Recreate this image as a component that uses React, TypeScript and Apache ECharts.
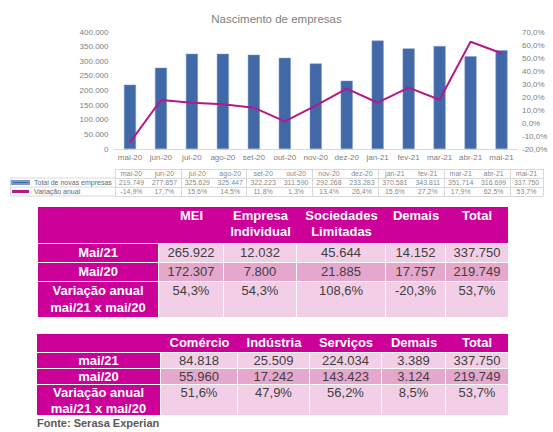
import React, { useEffect, useRef } from "react";
import * as echarts from "echarts";

const months = ["mai-20", "jun-20", "jul-20", "ago-20", "set-20", "out-20", "nov-20", "dez-20", "jan-21", "fev-21", "mar-21", "abr-21", "mai-21"];
const totalNovas = [219749, 277857, 325629, 325447, 322223, 311590, 292268, 233283, 370581, 343811, 351714, 316699, 337750];
const variacao = [-14.9, 17.7, 15.6, 14.5, 11.8, 1.3, 13.4, 26.4, 15.6, 27.2, 17.9, 62.5, 53.7];

const t1Headers = ["MEI", "Empresa\nIndividual", "Sociedades\nLimitadas", "Demais", "Total"];
const t1RowLabels = ["Mai/21", "Mai/20", "Variação anual\nmai/21 x mai/20"];
const t1Mai21 = [265922, 12032, 45644, 14152, 337750];
const t1Mai20 = [172307, 7800, 21885, 17757, 219749];
const t1Var = [54.3, 54.3, 108.6, -20.3, 53.7];

const t2Headers = ["Comércio", "Indústria", "Serviços", "Demais", "Total"];
const t2RowLabels = ["mai/21", "mai/20", "Variação anual\nmai/21 x mai/20"];
const t2Mai21 = [84818, 25509, 224034, 3389, 337750];
const t2Mai20 = [55960, 17242, 143423, 3124, 219749];
const t2Var = [51.6, 47.9, 56.2, 8.5, 53.7];

const fmtInt = (n: number) => String(n).replace(/\B(?=(\d{3})+(?!\d))/g, ".");
const fmtPct = (n: number) => n.toFixed(1).replace(".", ",") + "%";

const MAGENTA = "#CC0099";
const PINK_L = "#F2CFE6";
const PINK_D = "#E6A7CD";
const FONT = "'Liberation Sans', Arial, sans-serif";

function Chart() {
  const ref = useRef<HTMLDivElement>(null);
  useEffect(() => {
    if (!ref.current) return;
    const chart = echarts.init(ref.current, null, { renderer: "svg" });
    const gridTop = 169;
    const rowH = 9;
    const option: any = {
      animation: false,
      textStyle: { fontFamily: FONT },
      title: {
        text: "Nascimento de empresas",
        left: "center",
        top: 8,
        textStyle: { fontSize: 11.5, fontWeight: "normal", color: "#7f7f7f" },
      },
      legend: {
        orient: "vertical",
        left: 11,
        top: gridTop + rowH,
        padding: 0,
        itemGap: 0,
        itemWidth: 17,
        itemHeight: 3,
        selectedMode: false,
        textStyle: { fontSize: 7, color: "#666", lineHeight: rowH },
        data: [
          { name: "Total de novas empresas", icon: "rect" },
          { name: "Variação anual", icon: "rect" },
        ],
      },
      grid: [
        { left: 114.5, right: 36, top: 32, height: 117 },
        { left: 115, right: 10, top: gridTop, height: rowH * 3 },
      ],
      xAxis: [
        {
          type: "category",
          gridIndex: 0,
          data: months,
          axisLine: { lineStyle: { color: "#d9d9d9" } },
          axisTick: { show: false },
          axisLabel: { fontSize: 8, color: "#808080", margin: 4, interval: 0 },
        },
        {
          type: "category",
          gridIndex: 1,
          data: months,
          axisLine: { show: false },
          axisTick: { show: false },
          axisLabel: { show: false },
          splitLine: { show: true, lineStyle: { color: "#d9d9d9", width: 1 } },
        },
      ],
      yAxis: [
        {
          type: "value",
          gridIndex: 0,
          min: 0,
          max: 400000,
          interval: 50000,
          splitLine: { show: false },
          axisLine: { show: false },
          axisTick: { show: false },
          axisLabel: { fontSize: 8, color: "#808080", margin: 6, formatter: (v: number) => fmtInt(v) },
        },
        {
          type: "value",
          gridIndex: 0,
          position: "right",
          min: -20,
          max: 70,
          interval: 10,
          splitLine: { show: false },
          axisLine: { show: false },
          axisTick: { show: false },
          axisLabel: { fontSize: 8, color: "#808080", margin: 5, formatter: (v: number) => fmtPct(v) },
        },
        {
          type: "value",
          gridIndex: 1,
          min: 0,
          max: 3,
          interval: 1,
          axisLine: { show: false },
          axisTick: { show: false },
          axisLabel: { show: false },
          splitLine: { show: true, lineStyle: { color: "#d9d9d9", width: 1 } },
        },
      ],
      graphic: [
        { type: "line", shape: { x1: 10, y1: gridTop + rowH, x2: 115, y2: gridTop + rowH }, style: { stroke: "#d9d9d9", lineWidth: 1 } },
        { type: "line", shape: { x1: 10, y1: gridTop + rowH * 2, x2: 115, y2: gridTop + rowH * 2 }, style: { stroke: "#d9d9d9", lineWidth: 1 } },
        { type: "line", shape: { x1: 10, y1: gridTop + rowH * 3, x2: 115, y2: gridTop + rowH * 3 }, style: { stroke: "#d9d9d9", lineWidth: 1 } },
        { type: "line", shape: { x1: 10.5, y1: gridTop + rowH, x2: 10.5, y2: gridTop + rowH * 3 }, style: { stroke: "#d9d9d9", lineWidth: 1 } },
      ],
      series: [
        {
          name: "Total de novas empresas",
          type: "bar",
          xAxisIndex: 0,
          yAxisIndex: 0,
          data: totalNovas,
          barWidth: 12,
          itemStyle: { color: "#4169A8", borderColor: "#7a98c9", borderWidth: 0.5 },
        },
        {
          name: "Variação anual",
          type: "line",
          xAxisIndex: 0,
          yAxisIndex: 1,
          data: variacao,
          symbol: "none",
          lineStyle: { color: "#B5178D", width: 2 },
          itemStyle: { color: "#B5178D" },
        },
        {
          name: "tbl-months",
          type: "scatter",
          xAxisIndex: 1,
          yAxisIndex: 2,
          symbolSize: 1,
          itemStyle: { color: "rgba(0,0,0,0)" },
          data: months.map((m, i) => [i, 2.5]),
          label: { show: true, position: "inside", fontSize: 7, color: "#666", formatter: (p: any) => months[p.dataIndex] },
        },
        {
          name: "tbl-total",
          type: "scatter",
          xAxisIndex: 1,
          yAxisIndex: 2,
          symbolSize: 1,
          itemStyle: { color: "rgba(0,0,0,0)" },
          data: totalNovas.map((v, i) => [i, 1.5]),
          label: { show: true, position: "inside", fontSize: 7, color: "#666", formatter: (p: any) => fmtInt(totalNovas[p.dataIndex]) },
        },
        {
          name: "tbl-var",
          type: "scatter",
          xAxisIndex: 1,
          yAxisIndex: 2,
          symbolSize: 1,
          itemStyle: { color: "rgba(0,0,0,0)" },
          data: variacao.map((v, i) => [i, 0.5]),
          label: { show: true, position: "inside", fontSize: 7, color: "#666", formatter: (p: any) => fmtPct(variacao[p.dataIndex]) },
        },
      ],
    };
    chart.setOption(option);
    return () => chart.dispose();
  }, []);
  return <div ref={ref} style={{ position: "absolute", left: 0, top: 0, width: 553, height: 200 }} />;
}

type TableProps = {
  left: number;
  top: number;
  colWidths: number[];
  headerH: number;
  rowHs: number[];
  headers: string[];
  rowLabels: string[];
  rows: string[][];
  lh: number;
  headerLh: number;
};

function PinkTable(p: TableProps) {
  const xs: number[] = [];
  let acc = p.left;
  p.colWidths.forEach((w) => {
    xs.push(acc);
    acc += w;
  });
  const total = acc - p.left;
  const cells: React.ReactNode[] = [];
  cells.push(
    <div key="hdr" style={{ position: "absolute", left: p.left, top: p.top, width: total, height: p.headerH, background: MAGENTA }} />
  );
  p.headers.forEach((h, i) => {
    cells.push(
      <div
        key={"h" + i}
        style={{
          position: "absolute",
          left: xs[i + 1],
          top: p.top + 1,
          width: p.colWidths[i + 1],
          textAlign: "center",
          whiteSpace: "pre",
          lineHeight: p.headerLh + "px",
          fontWeight: "bold",
          fontSize: 13,
          color: "#fff",
        }}
      >
        {h}
      </div>
    );
  });
  let y = p.top + p.headerH;
  p.rows.forEach((row, r) => {
    const h = p.rowHs[r];
    const cellsInRow = [p.rowLabels[r], ...row];
    cellsInRow.forEach((txt, c) => {
      const isLabel = c === 0;
      const last = c === cellsInRow.length - 1;
      cells.push(
        <div
          key={"c" + r + "_" + c}
          style={{
            position: "absolute",
            left: xs[c],
            top: y + 1,
            width: p.colWidths[c] - (last ? 0 : 1),
            height: h - 1,
            background: isLabel ? MAGENTA : r === 1 ? PINK_D : PINK_L,
            textAlign: "center",
            whiteSpace: "pre",
            lineHeight: p.lh + "px",
            fontSize: 13,
            fontWeight: isLabel ? "bold" : "normal",
            color: isLabel ? "#fff" : "#404040",
          }}
        >
          {txt}
        </div>
      );
    });
    y += h;
  });
  return <>{cells}</>;
}

export default function App() {
  const t1Rows = [t1Mai21.map(fmtInt), t1Mai20.map(fmtInt), t1Var.map(fmtPct)];
  const t2Rows = [t2Mai21.map(fmtInt), t2Mai20.map(fmtInt), t2Var.map(fmtPct)];
  return (
    <div style={{ position: "absolute", left: 0, top: 0, width: 553, height: 432, background: "#fff", fontFamily: FONT, overflow: "hidden" }}>
      <Chart />
      <PinkTable
        left={38}
        top={207}
        colWidths={[121, 65, 73, 89, 60, 62]}
        headerH={36}
        rowHs={[19, 19, 36]}
        headers={t1Headers}
        rowLabels={t1RowLabels}
        rows={t1Rows}
        lh={17}
        headerLh={16}
      />
      <PinkTable
        left={37}
        top={334}
        colWidths={[124, 77, 72, 72, 64, 62]}
        headerH={18}
        rowHs={[16, 16, 31]}
        headers={t2Headers}
        rowLabels={t2RowLabels}
        rows={t2Rows}
        lh={16}
        headerLh={16}
      />
      <div style={{ position: "absolute", left: 37, top: 416, fontSize: 11, fontWeight: "bold", color: "#595959", lineHeight: "14px" }}>
        Fonte: Serasa Experian
      </div>
    </div>
  );
}
